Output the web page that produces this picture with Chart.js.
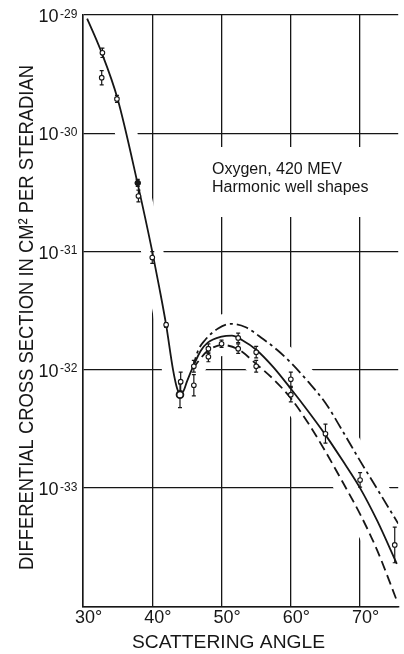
<!DOCTYPE html>
<html><head><meta charset="utf-8">
<script src="https://cdn.jsdelivr.net/npm/chart.js@4.4.1/dist/chart.umd.min.js"></script>
<style>html,body{margin:0;padding:0;background:#fff;}canvas{display:block;}</style>
</head><body>
<canvas id="c" width="404" height="654"></canvas>
<script>
// ---------------- data ----------------
const xTickValues = [30, 40, 50, 60, 70];
const xTickLabels = ['30°', '40°', '50°', '60°', '70°'];
const yTickExponents = [-29, -30, -31, -32, -33];
const yGridValues = [1e-34, 1e-33, 1e-32, 1e-31, 1e-30, 1e-29];

const xTitle = 'SCATTERING ANGLE';
const yTitle = 'DIFFERENTIAL CROSS SECTION IN CM² PER STERADIAN';
const noteLines = ['Oxygen, 420 MEV', 'Harmonic well shapes'];

// solid curve
const solidAngle = [30.6, 32.5, 35.0, 37.9, 40.0, 41.0, 42.0, 43.0, 43.6, 44.0, 44.5, 45.0, 46.0, 47.0, 48.0, 50.0, 51.5, 53.0, 55.0, 57.5, 60.0, 62.5, 65.0, 67.5, 70.0, 72.5, 75.3];
const solidValue = [9.33e-30, 5.13e-30, 1.95e-30, 3.72e-31, 1.0e-31, 5.01e-32, 2.40e-32, 1.0e-32, 6.92e-33, 6.31e-33, 6.61e-33, 7.94e-33, 1.10e-32, 1.45e-32, 1.70e-32, 1.91e-32, 1.95e-32, 1.78e-32, 1.48e-32, 1.05e-32, 6.92e-33, 4.47e-33, 2.82e-33, 1.70e-33, 1.0e-33, 5.25e-34, 2.29e-34];

// dash-dot curve (upper)
const dashDotAngle = [45.8, 46.6, 47.6, 49.5, 51.3, 53.5, 56.0, 58.0, 60.0, 62.5, 65.0, 67.5, 70.0, 72.5, 75.5];
const dashDotValue = [1.02e-32, 1.45e-32, 1.78e-32, 2.24e-32, 2.45e-32, 2.29e-32, 1.82e-32, 1.48e-32, 1.15e-32, 7.94e-33, 5.25e-33, 3.02e-33, 1.70e-33, 9.77e-34, 5.01e-34];

// dashed curve (lower)
const dashedAngle = [45.8, 46.6, 48.0, 50.2, 52.5, 55.0, 57.5, 60.0, 62.5, 65.0, 67.5, 70.0, 72.5, 75.3];
const dashedValue = [1.02e-32, 1.17e-32, 1.45e-32, 1.62e-32, 1.48e-32, 1.12e-32, 8.32e-33, 5.75e-33, 3.55e-33, 2.04e-33, 1.12e-33, 6.03e-34, 2.95e-34, 1.12e-34];

// measured points (open circles) with error limits
const measAngle = [32.8, 32.7, 34.9, 38.0, 40.0, 42.0, 44.1, 46.0, 46.0, 48.1, 48.1, 50.0, 52.4, 52.4, 55.0, 55.0, 60.0, 60.0, 65.0, 70.0, 75.0];
const measValue = [4.79e-30, 2.95e-30, 1.95e-30, 2.95e-31, 8.91e-32, 2.40e-32, 7.94e-33, 7.41e-33, 1.07e-32, 1.51e-32, 1.29e-32, 1.66e-32, 1.86e-32, 1.51e-32, 1.41e-32, 1.07e-32, 8.32e-33, 6.17e-33, 2.88e-33, 1.17e-33, 3.31e-34];
const measLow   = [4.37e-30, 2.57e-30, 1.82e-30, 2.63e-31, 7.94e-32, 2.29e-32, 6.61e-33, 6.03e-33, 9.55e-33, 1.38e-32, 1.17e-32, 1.55e-32, 1.70e-32, 1.38e-32, 1.26e-32, 9.55e-33, 7.24e-33, 5.37e-33, 2.40e-33, 1.02e-33, 2.34e-34];
const measHigh  = [5.25e-30, 3.39e-30, 2.09e-30, 3.31e-31, 1.00e-31, 2.51e-32, 9.55e-33, 9.12e-33, 1.20e-32, 1.66e-32, 1.41e-32, 1.78e-32, 2.04e-32, 1.66e-32, 1.58e-32, 1.20e-32, 9.55e-33, 7.08e-33, 3.47e-33, 1.35e-33, 4.68e-34];

// filled point
const filledAngle = [37.9];
const filledValue = [3.80e-31];
const filledLow = [3.55e-31];
const filledHigh = [4.07e-31];

// large circle at the minimum
const minAngle = [44.0];
const minValue = [6.17e-33];
const minLow = [4.79e-33];
const minHigh = [7.59e-33];

// ---------------- chart ----------------
const FONT = '"Liberation Sans", Arial, sans-serif';
const INK = '#161616';
const pts = (xs, ys) => xs.map((x, i) => ({x: x, y: ys[i]}));

const errorGroups = [
  [measAngle, measLow, measHigh],
  [filledAngle, filledLow, filledHigh],
  [minAngle, minLow, minHigh]
];

const decor = {
  id: 'decor',
  beforeDatasetsDraw(chart) {
    const {ctx, chartArea: a, scales} = chart;
    const xs = scales.x, ys = scales.y;
    ctx.save();
    // white space behind the annotation
    ctx.fillStyle = '#fff';
    ctx.fillRect(205, 147, 170, 70);
    // white halo around the curves (grid lines are interrupted there)
    ctx.beginPath();
    ctx.rect(a.left + 2, a.top + 2, a.right - a.left - 4, a.bottom - a.top - 4);
    ctx.clip();
    ctx.strokeStyle = '#fff';
    ctx.lineWidth = 22;
    ctx.lineJoin = 'round';
    ctx.setLineDash([]);
    chart.data.datasets.forEach((ds, i) => {
      if (ds.type !== 'line') return;
      const meta = chart.getDatasetMeta(i);
      ctx.beginPath();
      meta.dataset.path(ctx);
      ctx.stroke();
    });
    ctx.restore();
    // error bars
    ctx.save();
    ctx.strokeStyle = INK;
    ctx.lineWidth = 1.2;
    errorGroups.forEach(([ax, lo, hi]) => {
      ax.forEach((x, i) => {
        const px = xs.getPixelForValue(x);
        const y1 = ys.getPixelForValue(lo[i]);
        const y2 = ys.getPixelForValue(hi[i]);
        ctx.beginPath();
        ctx.moveTo(px, y1); ctx.lineTo(px, y2);
        ctx.moveTo(px - 2, y1); ctx.lineTo(px + 2, y1);
        ctx.moveTo(px - 2, y2); ctx.lineTo(px + 2, y2);
        ctx.stroke();
      });
    });
    ctx.restore();
  },
  afterDraw(chart) {
    const {ctx, scales} = chart;
    const ys = scales.y;
    ctx.save();
    ctx.fillStyle = INK;
    // y tick labels 10^n
    yTickExponents.forEach(e => {
      const T = ys.getPixelForValue(Math.pow(10, e));
      ctx.font = '18px ' + FONT;
      ctx.textAlign = 'right';
      ctx.textBaseline = 'alphabetic';
      ctx.fillText('10', 58.5, T + 7);
      ctx.font = '12px ' + FONT;
      ctx.textAlign = 'left';
      ctx.fillText(String(e), 60, T + 2.5);
    });
    // annotation
    ctx.font = '16px ' + FONT;
    ctx.textAlign = 'left';
    ctx.fillText(noteLines[0], 212, 173.5);
    ctx.fillText(noteLines[1], 212, 192);
    // x title (fitted to width)
    ctx.font = '18px ' + FONT;
    ctx.textAlign = 'center';
    let w = ctx.measureText(xTitle).width;
    ctx.save();
    ctx.translate(228.5, 648.3);
    ctx.scale(193 / w, 1);
    ctx.fillText(xTitle, 0, 0);
    ctx.restore();
    // y title (rotated, fitted to length)
    ctx.font = '21px ' + FONT;
    w = ctx.measureText(yTitle).width;
    ctx.save();
    ctx.translate(33, 317.5);
    ctx.rotate(-Math.PI / 2);
    ctx.scale(505 / w, 1);
    ctx.fillText(yTitle, 0, 0);
    ctx.restore();
    ctx.restore();
  }
};

new Chart(document.getElementById('c'), {
  type: 'scatter',
  data: {
    datasets: [
      { type: 'scatter', data: pts(measAngle, measValue), pointRadius: 2.3, pointBorderWidth: 1.1,
        pointBackgroundColor: '#fff', pointBorderColor: INK },
      { type: 'scatter', data: pts(filledAngle, filledValue), pointRadius: 2.8, pointBorderWidth: 1,
        pointBackgroundColor: INK, pointBorderColor: INK },
      { type: 'scatter', data: pts(minAngle, minValue), pointRadius: 3.4, pointBorderWidth: 1.8,
        pointBackgroundColor: '#fff', pointBorderColor: INK },
      { type: 'line', data: pts(solidAngle, solidValue), borderColor: INK, borderWidth: 1.8,
        pointRadius: 0, cubicInterpolationMode: 'monotone', fill: false },
      { type: 'line', data: pts(dashDotAngle, dashDotValue), borderColor: INK, borderWidth: 1.8,
        borderDash: [12, 4, 3, 4], pointRadius: 0, cubicInterpolationMode: 'monotone', fill: false },
      { type: 'line', data: pts(dashedAngle, dashedValue), borderColor: INK, borderWidth: 1.8,
        borderDash: [10, 5], pointRadius: 0, cubicInterpolationMode: 'monotone', fill: false }
    ]
  },
  options: {
    responsive: false,
    animation: false,
    devicePixelRatio: 1,
    layout: { padding: { left: 83, top: 15, right: 1, bottom: 24 } },
    plugins: { legend: { display: false }, tooltip: { enabled: false } },
    scales: {
      x: {
        type: 'linear', min: 30, max: 75.5,
        afterBuildTicks: s => { s.ticks = xTickValues.map(v => ({value: v})); },
        ticks: { callback: (v, i) => xTickLabels[i], font: { size: 18, family: FONT }, color: INK,
                 padding: 1, labelOffset: 5.5, maxRotation: 0, autoSkip: false },
        grid: { color: INK, lineWidth: 1.3, drawTicks: false },
        border: { color: INK, width: 1.5 }
      },
      y: {
        type: 'logarithmic', min: 1e-34, max: 1e-29,
        afterBuildTicks: s => { s.ticks = yGridValues.map(v => ({value: v})); },
        ticks: { display: false },
        grid: { color: INK, lineWidth: 1.3, drawTicks: false },
        border: { color: INK, width: 1.5 }
      }
    }
  },
  plugins: [decor]
});
</script>
</body></html>
